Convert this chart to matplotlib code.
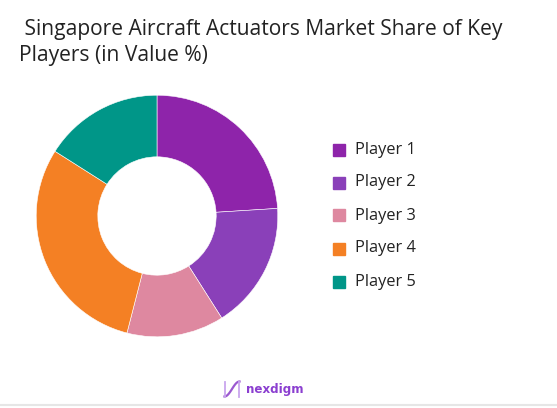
import matplotlib.pyplot as plt
import numpy as np

players = ['Player 1', 'Player 2', 'Player 3', 'Player 4', 'Player 5']
shares = [24, 17, 13, 30, 16]
colors = ['#8E24AA', '#8A40B9', '#DE88A0', '#F48024', '#009688']

W, H = 557, 408
fig = plt.figure(figsize=(W / 100, H / 100), dpi=100)
fig.patch.set_facecolor('white')

# donut, centre (157, 216) px, radius 122 px
cx, cy, r = 157, 216, 122
ax = fig.add_axes([(cx - r) / W, (H - cy - r) / H, 2 * r / W, 2 * r / H])
wedges, _ = ax.pie(shares, colors=colors, startangle=90, counterclock=False,
                   radius=1, wedgeprops=dict(width=0.51, edgecolor='white', linewidth=0.4))
ax.set_xlim(-1.01, 1.01)
ax.set_ylim(-1.01, 1.01)
ax.set_aspect('equal')
ax.axis('off')

fig.text(19 / W, 1 - 29 / H, ' Singapore Aircraft Actuators Market Share of Key',
         fontsize=15.1, family='Open Sans', weight='medium', color='#222222', va='center')
fig.text(19 / W, 1 - 56 / H, 'Players (in Value %)',
         fontsize=15.1, family='Open Sans', weight='medium', color='#222222', va='center')

# legend
for i, name in enumerate(players):
    y = 149.5 + i * 33
    fig.patches.append(plt.Rectangle((333 / W, 1 - (y + 6) / H), 12 / W, 12 / H,
                                     transform=fig.transFigure, color=colors[i]))
    fig.text(355 / W, 1 - y / H, name, fontsize=11.8, family='Open Sans',
             weight='medium', color='#222222', va='center')

# logo
lx = fig.add_axes([223 / W, 1 - 399 / H, 18 / W, 20 / H])
t = np.linspace(0, 1, 80)
lx.plot(t, 0.5 - 0.45 * np.cos(t * np.pi), color='#9B59D0', lw=1.6)
lx.plot([0.02, 0.02], [0.05, 0.95], color='#C9A6EE', lw=1.3)
lx.plot([0.98, 0.98], [0.05, 0.95], color='#C9A6EE', lw=1.3)
lx.set_xlim(-0.1, 1.1)
lx.set_ylim(-0.1, 1.1)
lx.axis('off')
fig.text(246 / W, 1 - 389 / H, 'nexdigm', fontsize=8.6, family='DejaVu Sans',
         weight='bold', color='#8B3FD0', va='center')

fig.add_artist(plt.Line2D([0, 1], [1 - 405 / H, 1 - 405 / H], color='#E6E6E6', lw=1.5))

fig.savefig('out.png', dpi=100, facecolor='white')
